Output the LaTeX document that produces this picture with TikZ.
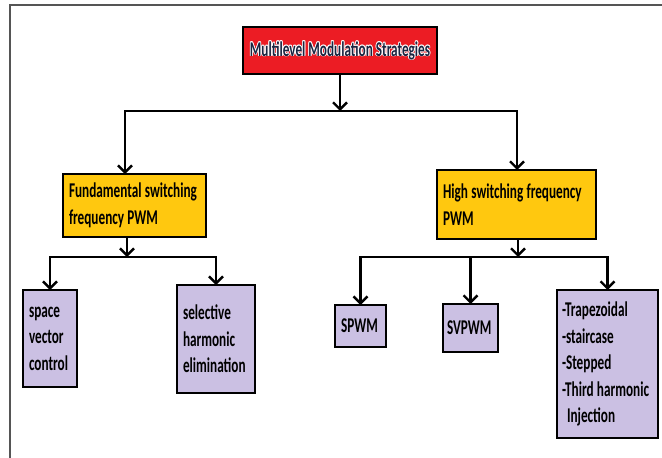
\documentclass[tikz,border=0pt]{standalone}
\usepackage{fontspec}
\setmainfont{Carlito}[FakeStretch=0.63]
\usetikzlibrary{arrows.meta}
\definecolor{rootred}{HTML}{EC1C24}
\definecolor{gold}{HTML}{FFC80F}
\definecolor{lav}{HTML}{CBC0E3}
\definecolor{rootink}{HTML}{1C2440}
\definecolor{framegray}{HTML}{555555}
\newcommand\diagfont{\fontsize{21}{26.5}\selectfont\bfseries}
\newcommand\tightspaces{\spaceskip=3.3pt plus 0.5pt minus 0.5pt\relax\xspaceskip=3.3pt\relax\hyphenpenalty=10000\relax}
\begin{document}
\begin{tikzpicture}[x=1pt,y=-1pt,
  txt/.style={font=\diagfont},
  box/.style={txt, draw=black, line width=2.4pt, anchor=north west, inner ysep=0pt, inner xsep=6pt, align=left, outer sep=0pt, execute at begin node=\tightspaces},
  conn/.style={line width=2.4pt, draw=black},
  arr/.style={conn, -{Straight Barb[length=7pt,width=14pt]}}]
\useasboundingbox (0,0) rectangle (662,458);
% frame
\coordinate (ftr) at (662,5);
\coordinate (ftl) at (10,5);
\coordinate (fbl) at (10,458);
\draw[framegray, line width=1.3pt] (ftr) -- (ftl) -- (fbl);
% nodes
\node[box, fill=rootred, minimum width=194pt, minimum height=47pt] (root) at (243,27) {};
\foreach \dx/\dy in {0.8/0,-0.8/0,0/0.8,0/-0.8,0.6/0.6,-0.6/0.6,0.6/-0.6,-0.6/-0.6}
  \node[txt, text=white, inner sep=0pt] at ([shift={(\dx,\dy)}]root.center) {Multilevel Modulation Strategies};
\node[txt, text=rootink, inner sep=0pt] (roottxt) at (root.center) {Multilevel Modulation Strategies};
\node[box, fill=gold, minimum width=143pt, minimum height=63pt, text width=131pt] (fund) at (63,174) {\mbox{Fundamental switching}\\\mbox{frequency PWM}};
\node[box, fill=gold, minimum width=159pt, minimum height=69pt, text width=147pt] (high) at (437,170) {\mbox{High switching frequency}\\PWM};
\node[box, fill=lav, minimum width=54pt, minimum height=97pt, text width=42pt] (space) at (23,290) {space\\vector\\control};
\node[box, fill=lav, minimum width=78pt, minimum height=108pt, text width=66pt] (sel) at (177,285) {selective\\harmonic\\elimination\\[8pt]};
\node[box, fill=lav, minimum width=51pt, minimum height=42pt, text width=39pt] (spwm) at (335,305) {SPWM};
\node[box, fill=lav, minimum width=55pt, minimum height=48pt, inner xsep=4pt, text width=47pt] (svpwm) at (443,304) {SVPWM\\[4pt]};
\node[box, fill=lav, minimum width=101pt, minimum height=148pt, inner xsep=5pt, text width=91pt] (right) at (557,290) {-Trapezoidal\\-staircase\\-Stepped\\\mbox{-Third harmonic}\\\hspace*{5pt}Injection};
% connectors level 1
\coordinate (r1) at (340,111);
\coordinate (jl) at (125,111);
\coordinate (jr) at (517,111);
\draw[arr] (root.south) -- (r1);
\draw[conn, line cap=rect] (jl) -- (jr);
\draw[arr] (jl) -- (jl |- fund.north);
\draw[arr] (jr) -- (jr |- high.north);
% fundamental children
\coordinate (f1) at (127,257);
\coordinate (fl) at (space.north |- f1);
\coordinate (fr) at (sel.north |- f1);
\draw[arr] (f1 |- fund.south) -- (f1);
\draw[conn, line cap=rect] (fl) -- (fr);
\draw[arr] (fl) -- (space.north);
\draw[arr] (fr) -- (sel.north);
% high children
\coordinate (h1) at (518,257);
\coordinate (hl) at (spwm.north |- h1);
\coordinate (hm) at (svpwm.north |- h1);
\coordinate (hr) at (right.north |- h1);
\draw[arr] (h1 |- high.south) -- (h1);
\draw[conn, line cap=rect] (hl) -- (hr);
\draw[arr] (hl) -- (spwm.north);
\draw[arr] (hm) -- (svpwm.north);
\draw[arr] (hr) -- (right.north);
\end{tikzpicture}
\end{document}
